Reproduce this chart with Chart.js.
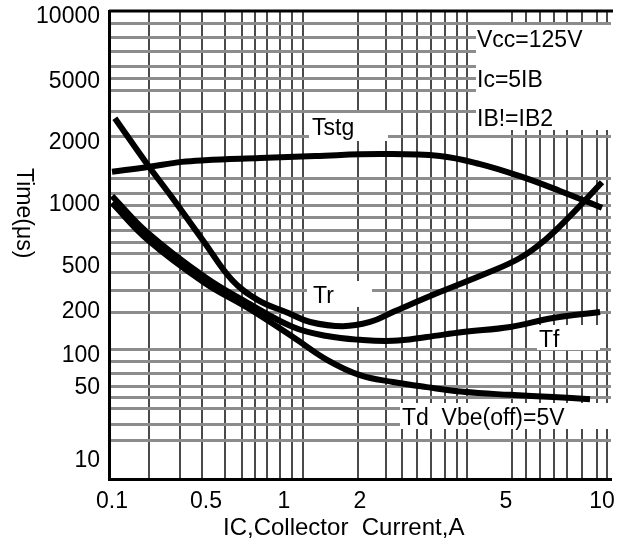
<!DOCTYPE html>
<html>
<head>
<meta charset="utf-8">
<title>Switching time vs collector current</title>
<script src="https://cdn.jsdelivr.net/npm/chart.js@4.4.1/dist/chart.umd.min.js"></script>
<style>
    html, body { margin: 0; padding: 0; background: #fff; }
    #wrap { width: 628px; height: 551px; }
</style>
</head>
<body>
<div id="wrap"><canvas id="switchChart"></canvas></div>
<script>
// Tick labels
const xTickValues = [0.1, 0.5, 1, 2, 5, 10];
const yTickValues = [10, 50, 100, 200, 500, 1000, 2000, 5000, 10000];

// Grid lines as they sit on the sheet (they don't line up with the labels)
const xGridValues = [0.19, 0.32, 0.47, 0.59, 0.69, 0.77, 0.86, 0.965, 1.08, 1.19, 1.96, 2.35, 2.6, 2.86,
    3.12, 3.41, 3.67, 3.91, 5.22, 5.78, 6.39, 7.07, 7.77, 8.65, 9.64, 10.37];
const yGridValues = [15.8, 22.5, 32, 41, 52, 68, 88, 110, 200, 310, 450, 580, 660, 755, 865, 990,
    1140, 1340, 2200, 3200, 4400, 5200, 5900, 6900, 8000, 9300];

// Curves: IC (A) and time (us)
const tstgCurrent = [0.1, 0.185, 0.33, 0.49, 0.81, 1.33, 2.27, 3.3, 4.25, 5.53, 7.38, 10.0];
const tstgTime    = [1450, 1530, 1620, 1650, 1690, 1730, 1768, 1730, 1580, 1380, 1170, 970];

const trCurrent = [0.105, 0.185, 0.279, 0.49, 0.63, 0.794, 1.04, 1.27, 1.71, 2.13, 2.46, 3.3, 4.44, 5.53, 6.63, 7.94, 10.0];
const trTime    = [2900, 1560, 1090, 654, 384, 255, 197, 171, 160, 171, 200, 300, 442, 553, 676, 884, 1290];

const tfCurrent = [0.1, 0.185, 0.49, 0.726, 1.085, 1.48, 2.0, 2.46, 3.04, 3.82, 5.15, 7.02, 9.86];
const tfTime    = [1106, 731, 408, 240, 158, 137, 129, 127, 135, 146, 158, 182, 200];

const tdCurrent = [0.1, 0.185, 0.49, 0.726, 1.085, 1.48, 2.0, 2.46, 3.04, 3.82, 5.15, 7.02, 9.17];
const tdTime    = [1023, 676, 361, 217, 135, 92, 66, 57, 51, 46, 43, 41, 39];

// The printed decades are not evenly spaced, so each axis is a log scale
// bent through these [value, fraction of axis] anchors.
const warpAnchors = {
    x: [[0.1, 0.0060], [0.5, 0.1932], [1, 0.3486], [2, 0.5], [5, 0.7908], [10, 0.9821]],
    y: [[10, 0.0385], [50, 0.1944], [100, 0.2628], [200, 0.3568], [500, 0.4530],
        [1000, 0.5855], [2000, 0.7179], [5000, 0.8483], [10000, 0.9872]]
};

function toDecimal(anchors, v) {
    const lv = Math.log10(v);
    let i = 0;
    while (i < anchors.length - 2 && lv > Math.log10(anchors[i + 1][0])) i++;
    const l0 = Math.log10(anchors[i][0]), l1 = Math.log10(anchors[i + 1][0]);
    const d0 = anchors[i][1], d1 = anchors[i + 1][1];
    return d0 + (lv - l0) * (d1 - d0) / (l1 - l0);
}

function fromDecimal(anchors, d) {
    let i = 0;
    while (i < anchors.length - 2 && d > anchors[i + 1][1]) i++;
    const l0 = Math.log10(anchors[i][0]), l1 = Math.log10(anchors[i + 1][0]);
    const d0 = anchors[i][1], d1 = anchors[i + 1][1];
    return Math.pow(10, l0 + (d - d0) * (l1 - l0) / (d1 - d0));
}

class SheetLogScale extends Chart.LogarithmicScale {
    getPixelForValue(value) {
        if (value === null || value === undefined || value <= 0) return NaN;
        return this.getPixelForDecimal(toDecimal(warpAnchors[this.id], value));
    }
    getValueForPixel(pixel) {
        return fromDecimal(warpAnchors[this.id], this.getDecimalForPixel(pixel));
    }
}
SheetLogScale.id = 'sheetLog';
SheetLogScale.defaults = Chart.LogarithmicScale.defaults;
Chart.register(SheetLogScale);

function makeTicks(labels, grid) {
    const ticks = grid.map(v => ({ value: v, isLabel: false }))
        .concat(labels.map(v => ({ value: v, isLabel: true })));
    return ticks.sort((a, b) => a.value - b.value);
}

function toPoints(xs, ys) {
    return xs.map((x, i) => ({ x: x, y: ys[i] }));
}

const FONT = '"Liberation Sans", Arial, sans-serif';

// Hand placed text from the sheet: white patches behind the curve names
const sheetNotes = [
    { box: [476, 25, 137, 105] },
    { text: 'Vcc=125V', x: 477, y: 47 },
    { text: 'Ic=5IB', x: 477, y: 87 },
    { text: 'IB!=IB2', x: 477, y: 126 },
    { text: 'Tstg', x: 312, y: 135, box: [309, 113, 79, 28] },
    { text: 'Tr', x: 313, y: 303, box: [307, 281, 65, 26] },
    { text: 'Tf', x: 539, y: 347, box: [537, 325, 63, 25] },
    { text: 'Td  Vbe(off)=5V', x: 402, y: 425, box: [400, 403, 213, 26] }
];

const sheetText = {
    id: 'sheetText',
    beforeDatasetsDraw(chart) {
        const ctx = chart.ctx;
        const a = chart.chartArea;
        ctx.save();
        // top edge of the frame
        ctx.strokeStyle = '#000';
        ctx.lineWidth = 3;
        ctx.beginPath();
        ctx.moveTo(a.left, a.top);
        ctx.lineTo(a.right + 2, a.top);
        ctx.stroke();

        ctx.fillStyle = '#fff';
        sheetNotes.forEach(n => {
            if (n.box) ctx.fillRect(n.box[0], n.box[1], n.box[2], n.box[3]);
        });
        ctx.fillStyle = '#000';
        ctx.font = '23px ' + FONT;
        ctx.textAlign = 'left';
        ctx.textBaseline = 'alphabetic';
        sheetNotes.forEach(n => {
            if (n.text) ctx.fillText(n.text, n.x, n.y);
        });
        ctx.restore();
    },
    afterDraw(chart) {
        const ctx = chart.ctx;
        ctx.save();
        ctx.fillStyle = '#000';
        ctx.font = '24px ' + FONT;
        ctx.textAlign = 'left';
        ctx.textBaseline = 'alphabetic';
        ctx.fillText('IC,Collector  Current,A', 223, 535);

        // y title reads top to bottom
        ctx.font = '23px ' + FONT;
        ctx.translate(17, 168);
        ctx.rotate(Math.PI / 2);
        ctx.fillText('Time(\u03bcs)', 0, 0);
        ctx.restore();
    }
};

const curveStyle = {
    borderColor: '#000',
    borderWidth: 6,
    pointRadius: 0,
    fill: false,
    tension: 0.4
};

const ctx = document.getElementById('switchChart').getContext('2d');
const switchChart = new Chart(ctx, {
    type: 'line',
    data: {
        datasets: [
            Object.assign({ label: 'Tstg', data: toPoints(tstgCurrent, tstgTime) }, curveStyle),
            Object.assign({ label: 'Tr', data: toPoints(trCurrent, trTime) }, curveStyle),
            Object.assign({ label: 'Tf', data: toPoints(tfCurrent, tfTime) }, curveStyle),
            Object.assign({ label: 'Td', data: toPoints(tdCurrent, tdTime) }, curveStyle)
        ]
    },
    options: {
        responsive: true,
        maintainAspectRatio: false,
        animation: false,
        layout: { padding: { top: 11, right: 17, bottom: 0, left: 0 } },
        plugins: {
            legend: { display: false },
            tooltip: { enabled: false }
        },
        scales: {
            x: {
                type: 'sheetLog',
                min: 0.095,
                max: 10.67,
                afterBuildTicks: scale => { scale.ticks = makeTicks(xTickValues, xGridValues); },
                afterFit: scale => {
                    scale.height = 72;
                    scale.paddingLeft = 0;
                    scale.paddingRight = 0;
                },
                border: { color: '#000', width: 3 },
                grid: {
                    drawTicks: false,
                    lineWidth: 2,
                    color: c => (c.tick && c.tick.isLabel) ? 'rgba(0,0,0,0)' : '#4a4a4a'
                },
                ticks: {
                    autoSkip: false,
                    maxRotation: 0,
                    minRotation: 0,
                    padding: 9,
                    color: '#000',
                    font: { family: FONT, size: 23 },
                    callback: (value, i, ticks) => ticks[i].isLabel ? String(value) : ''
                }
            },
            y: {
                type: 'sheetLog',
                min: 6.7,
                max: 10660,
                afterBuildTicks: scale => { scale.ticks = makeTicks(yTickValues, yGridValues); },
                afterFit: scale => {
                    scale.width = 109;
                    scale.paddingTop = 0;
                    scale.paddingBottom = 0;
                },
                border: { color: '#000', width: 3 },
                grid: {
                    drawTicks: false,
                    lineWidth: 3,
                    color: c => (c.tick && c.tick.isLabel) ? 'rgba(0,0,0,0)' : '#8c8c8c'
                },
                ticks: {
                    autoSkip: false,
                    padding: 9,
                    color: '#000',
                    font: { family: FONT, size: 23 },
                    callback: (value, i, ticks) => ticks[i].isLabel ? String(value) : ''
                }
            }
        }
    },
    plugins: [sheetText]
});
</script>
</body>
</html>
